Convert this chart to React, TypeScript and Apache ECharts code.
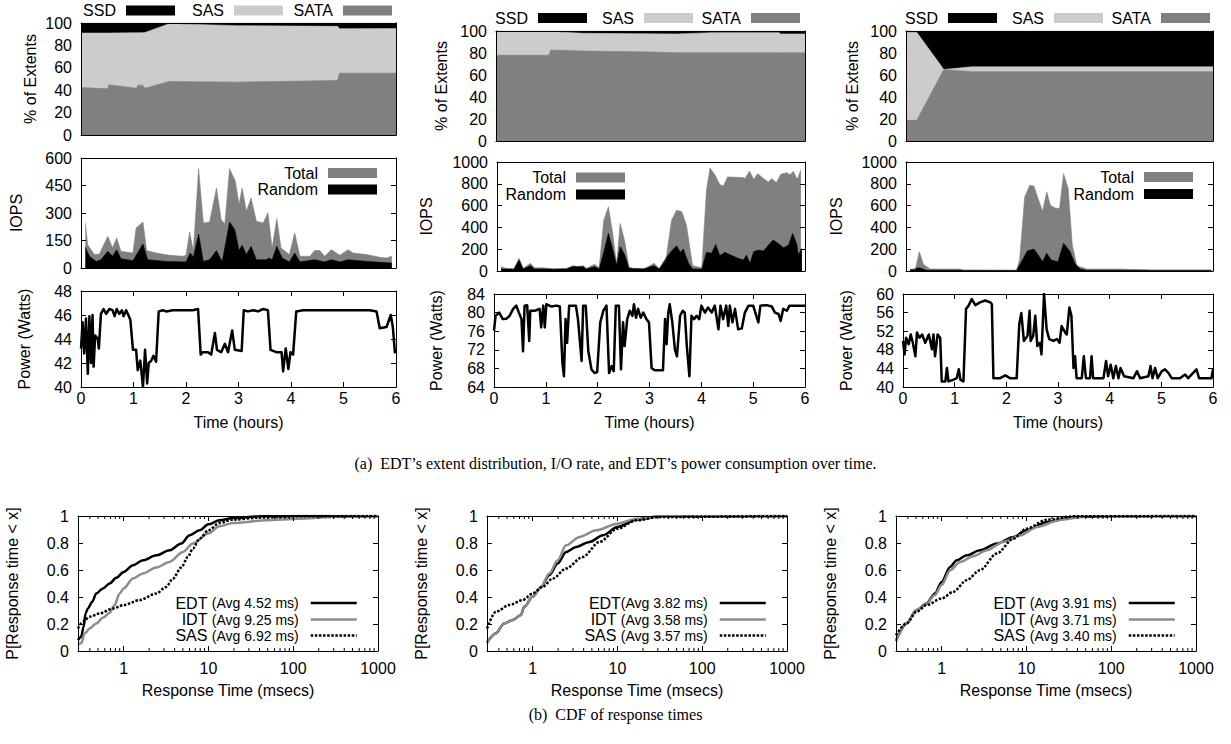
import React, { useEffect, useRef } from 'react';
import * as echarts from 'echarts';

// ---------------- data ----------------
// Extent distribution (% of extents) over time (hours); cumulative tops of each band
const ext1Time = [0, 0.51, 0.53, 1.05, 1.1, 1.13, 1.16, 1.22, 1.68, 3.0, 4.89, 4.92, 6];
const ext1SataTop = [42.4, 41.2, 44.8, 41.8, 45, 44, 45, 41.8, 47.8, 47.2, 48.7, 55.2, 55.2];
const ext1SasTop = [91, 91, 91, 91.3, 91.3, 91.3, 91.3, 91.6, 99.4, 97.6, 97, 94.9, 95];
const ext1SsdTop = [100, 100, 100, 100, 100, 100, 100, 100, 100, 100, 100, 100, 100];

const ext2Time = [0, 1.03, 1.06, 1.7, 3.0, 3.5, 4.2, 5.5, 5.52, 6];
const ext2SataTop = [78, 78, 82.7, 81.8, 81, 80.2, 80.2, 80.2, 80.2, 80.2];
const ext2SasTop = [99.4, 99.4, 99.4, 97.9, 97.4, 97.3, 98.5, 98.5, 97.3, 97.3];
const ext2SsdTop = [100, 100, 100, 100, 100, 100, 100, 100, 100, 100];

const ext3Time = [0, 0.21, 0.74, 1.28, 6];
const ext3SataTop = [18.8, 18.8, 65, 63, 63];
const ext3SasTop = [98.8, 98.8, 65, 67.4, 67.4];
const ext3SsdTop = [100, 100, 100, 100, 100];

// IOPS
const io1TotalTime = [0.083, 0.127, 0.254, 0.35, 0.51, 0.6, 0.68, 0.76, 0.99, 1.05, 1.18, 1.25, 1.43, 1.69, 1.94, 2.0, 2.07, 2.14, 2.24, 2.33, 2.45, 2.58, 2.67, 2.74, 2.83, 2.94, 3.01, 3.07, 3.15, 3.24, 3.34, 3.47, 3.56, 3.64, 3.73, 3.81, 3.97, 4.07, 4.17, 4.36, 4.45, 4.55, 4.64, 4.77, 4.93, 5.09, 5.18, 5.44, 5.69, 5.82, 5.92];
const io1Total = [246, 127, 73, 76, 173, 109, 164, 91, 82, 218, 251, 95, 82, 69, 64, 69, 196, 91, 542, 246, 251, 436, 264, 240, 542, 473, 346, 436, 309, 382, 255, 246, 300, 109, 269, 109, 73, 191, 64, 64, 95, 95, 64, 100, 69, 100, 82, 73, 58, 55, 64];
const io1RandomTime = [0.083, 0.16, 0.29, 0.38, 0.51, 0.6, 0.68, 0.76, 0.99, 1.18, 1.27, 1.62, 2.0, 2.08, 2.14, 2.24, 2.33, 2.45, 2.58, 2.69, 2.83, 2.93, 3.01, 3.07, 3.15, 3.24, 3.34, 3.53, 3.58, 3.64, 3.73, 3.83, 3.97, 4.07, 4.17, 4.45, 4.64, 4.77, 4.93, 5.09, 5.44, 5.92];
const io1Random = [113, 64, 36, 45, 91, 64, 100, 51, 40, 131, 45, 36, 33, 82, 58, 185, 36, 45, 95, 33, 251, 209, 95, 124, 73, 118, 45, 45, 55, 45, 118, 55, 33, 82, 33, 45, 33, 45, 33, 45, 36, 27];

const io2TotalTime = [0.08, 0.18, 0.33, 0.43, 0.51, 0.65, 0.73, 0.9, 1.09, 1.35, 1.48, 1.58, 1.68, 1.74, 1.9, 1.99, 2.08, 2.17, 2.25, 2.33, 2.4, 2.49, 2.57, 2.65, 2.88, 3.06, 3.16, 3.29, 3.4, 3.5, 3.6, 3.69, 3.81, 3.99, 4.08, 4.15, 4.25, 4.34, 4.41, 4.49, 4.8, 4.83, 4.92, 5.0, 5.08, 5.19, 5.29, 5.35, 5.44, 5.53, 5.64, 5.71, 5.77, 5.85, 5.92];
const io2Total = [40, 24, 18, 116, 24, 70, 30, 30, 18, 24, 49, 40, 49, 24, 61, 30, 466, 588, 357, 61, 436, 268, 40, 24, 24, 70, 24, 100, 466, 558, 543, 421, 49, 30, 741, 945, 878, 793, 780, 863, 857, 848, 915, 841, 893, 848, 817, 848, 811, 887, 902, 884, 915, 841, 930];
const io2RandomTime = [0.08, 0.33, 0.43, 0.51, 0.65, 0.73, 1.35, 1.48, 1.68, 1.74, 1.9, 1.99, 2.08, 2.17, 2.25, 2.33, 2.4, 2.49, 2.57, 2.85, 3.06, 3.16, 3.29, 3.4, 3.5, 3.57, 3.63, 3.73, 3.81, 3.99, 4.08, 4.18, 4.26, 4.34, 4.44, 4.55, 4.7, 4.8, 4.86, 4.93, 5.0, 5.09, 5.19, 5.29, 5.38, 5.48, 5.58, 5.68, 5.76, 5.84, 5.87, 5.94];
const io2Random = [18, 18, 100, 18, 49, 18, 18, 40, 40, 18, 40, 18, 171, 345, 207, 55, 223, 146, 24, 18, 49, 18, 116, 183, 232, 171, 201, 70, 18, 18, 171, 162, 244, 140, 171, 146, 116, 100, 146, 70, 177, 192, 183, 238, 284, 253, 213, 238, 345, 244, 146, 207];

const io3TotalTime = [0.08, 0.18, 0.26, 0.34, 0.47, 1.05, 1.12, 2.16, 2.22, 2.32, 2.42, 2.5, 2.58, 2.67, 2.75, 2.82, 2.91, 3.0, 3.08, 3.17, 3.25, 3.34, 3.53, 4.18, 4.83, 5.97];
const io3Total = [18, 9, 177, 61, 18, 18, 9, 6, 100, 680, 787, 780, 665, 549, 726, 604, 579, 573, 893, 756, 238, 49, 18, 18, 9, 9];
const io3RandomTime = [0.08, 0.26, 0.4, 2.16, 2.25, 2.37, 2.5, 2.56, 2.67, 2.75, 2.84, 2.97, 3.08, 3.2, 3.3, 3.4, 3.53, 5.97];
const io3Random = [9, 30, 6, 6, 79, 183, 201, 162, 85, 162, 100, 85, 253, 183, 70, 18, 6, 6];

// Power (Watts)
const pw1Time = [0, 0.03, 0.06, 0.095, 0.13, 0.16, 0.19, 0.22, 0.24, 0.27, 0.32, 0.34, 0.38, 0.43, 0.48, 0.54, 0.6, 0.64, 0.68, 0.73, 0.78, 0.81, 0.86, 0.89, 0.94, 0.99, 1.05, 1.08, 1.13, 1.18, 1.22, 1.26, 1.29, 1.34, 1.38, 1.43, 1.48, 1.56, 1.62, 1.75, 1.88, 2.0, 2.13, 2.23, 2.28, 2.32, 2.42, 2.48, 2.55, 2.59, 2.67, 2.74, 2.8, 2.88, 2.93, 3.06, 3.1, 3.18, 3.28, 3.37, 3.47, 3.56, 3.61, 3.72, 3.82, 3.85, 3.9, 3.95, 3.99, 4.04, 4.1, 4.23, 4.42, 4.61, 4.8, 5.06, 5.31, 5.5, 5.63, 5.69, 5.82, 5.9, 5.94, 5.98];
const pw1 = [43.2, 45.4, 42.8, 45.7, 41.1, 45.9, 42.0, 46.0, 41.7, 44.3, 44.0, 43.2, 46.1, 46.5, 46.1, 46.5, 46.4, 45.9, 46.5, 46.1, 46.4, 45.9, 46.4, 46.1, 45.6, 43.1, 43.1, 41.4, 42.2, 40.0, 43.1, 40.3, 42.0, 42.2, 42.6, 42.1, 46.3, 46.4, 46.3, 46.4, 46.4, 46.4, 46.4, 46.5, 42.7, 42.9, 42.9, 42.7, 44.5, 43.1, 42.9, 43.6, 42.9, 44.7, 43.1, 43.0, 46.4, 46.3, 46.4, 46.3, 46.5, 46.4, 43.1, 42.9, 42.9, 41.3, 43.2, 41.5, 42.9, 42.7, 46.3, 46.4, 46.4, 46.4, 46.4, 46.4, 46.4, 46.4, 46.3, 44.9, 45.0, 46.0, 45.0, 42.8];

const pw2Time = [0, 0.03, 0.1, 0.17, 0.24, 0.3, 0.37, 0.43, 0.48, 0.53, 0.56, 0.59, 0.64, 0.68, 0.7, 0.79, 0.88, 0.91, 0.95, 0.98, 1.01, 1.11, 1.2, 1.27, 1.32, 1.35, 1.38, 1.41, 1.45, 1.58, 1.62, 1.69, 1.72, 1.77, 1.82, 1.88, 1.94, 1.99, 2.05, 2.11, 2.17, 2.22, 2.27, 2.31, 2.35, 2.41, 2.45, 2.49, 2.52, 2.57, 2.62, 2.67, 2.7, 2.74, 2.78, 2.83, 2.88, 2.94, 2.99, 3.04, 3.1, 3.26, 3.3, 3.33, 3.36, 3.39, 3.44, 3.49, 3.53, 3.59, 3.64, 3.68, 3.72, 3.77, 3.81, 3.86, 3.91, 3.96, 4.0, 4.07, 4.13, 4.2, 4.26, 4.33, 4.37, 4.42, 4.48, 4.52, 4.55, 4.6, 4.65, 4.71, 4.78, 4.84, 4.91, 5.0, 5.1, 5.14, 5.26, 5.36, 5.42, 5.49, 5.53, 5.58, 5.65, 5.7, 5.78, 6.0];
const pw2 = [76.1, 79.3, 80.0, 78.6, 78.7, 79.3, 80.8, 81.5, 80.0, 78.6, 71.7, 81.5, 81.6, 73.9, 80.4, 80.4, 80.8, 76.8, 81.5, 76.8, 81.8, 81.3, 81.5, 81.3, 69.2, 66.3, 78.6, 73.5, 81.5, 81.5, 78.6, 69.6, 81.5, 81.5, 71.7, 67.8, 67.0, 67.2, 77.9, 80.4, 81.5, 67.0, 68.5, 67.4, 81.5, 81.5, 67.8, 77.9, 72.8, 78.6, 80.4, 79.3, 81.8, 78.9, 80.8, 78.9, 80.0, 78.6, 77.9, 68.1, 67.6, 67.6, 78.6, 73.2, 79.7, 81.8, 77.9, 72.1, 70.6, 79.3, 80.4, 80.0, 72.8, 66.3, 79.3, 78.6, 79.3, 78.6, 81.5, 80.0, 81.1, 80.0, 81.5, 76.4, 81.5, 78.6, 81.5, 77.1, 81.5, 77.9, 80.8, 76.4, 76.6, 80.0, 81.5, 81.5, 77.9, 81.5, 81.6, 81.3, 80.0, 79.7, 78.2, 80.8, 80.4, 81.5, 81.5, 81.5];

const pw3Time = [0, 0.03, 0.06, 0.11, 0.15, 0.19, 0.24, 0.27, 0.32, 0.37, 0.43, 0.5, 0.56, 0.59, 0.62, 0.67, 0.72, 0.75, 0.82, 0.85, 0.88, 0.98, 1.04, 1.08, 1.11, 1.17, 1.22, 1.27, 1.33, 1.4, 1.49, 1.59, 1.69, 1.72, 1.75, 1.88, 1.98, 2.07, 2.2, 2.25, 2.29, 2.34, 2.41, 2.45, 2.47, 2.52, 2.56, 2.6, 2.65, 2.68, 2.73, 2.78, 2.83, 2.91, 2.98, 3.03, 3.07, 3.14, 3.17, 3.22, 3.26, 3.3, 3.33, 3.36, 3.46, 3.5, 3.54, 3.62, 3.65, 3.68, 3.88, 3.93, 3.97, 4.02, 4.07, 4.12, 4.17, 4.21, 4.28, 4.46, 4.53, 4.59, 4.75, 4.79, 4.83, 4.88, 4.93, 5.01, 5.07, 5.14, 5.2, 5.36, 5.46, 5.52, 5.68, 5.73, 5.97, 6.0];
const pw3 = [49.9, 47.0, 50.6, 49.2, 51.3, 49.5, 46.6, 51.7, 50.6, 51.3, 49.5, 51.3, 48.1, 51.3, 46.6, 51.3, 50.6, 41.2, 41.2, 44.1, 41.2, 41.6, 41.9, 43.8, 41.6, 41.2, 56.8, 57.5, 58.9, 57.6, 58.2, 58.6, 58.2, 57.8, 41.9, 41.9, 42.5, 41.9, 41.9, 53.5, 55.9, 49.9, 51.0, 56.4, 49.9, 51.0, 55.3, 48.8, 49.5, 47.0, 60.0, 52.4, 50.3, 49.9, 50.3, 49.5, 53.1, 51.7, 51.3, 57.1, 55.3, 44.1, 46.6, 41.9, 41.9, 46.6, 41.9, 41.9, 46.6, 41.9, 41.9, 45.6, 42.3, 44.8, 41.9, 44.5, 41.9, 44.1, 42.3, 41.9, 43.4, 41.9, 42.3, 44.5, 41.9, 44.1, 41.9, 43.4, 43.8, 43.0, 41.9, 41.9, 42.7, 41.9, 43.8, 41.9, 41.9, 43.8];

// CDF of response times (msecs, probability)
const cdf1EdtMs = [0.29, 0.316, 0.338, 0.356, 0.38, 0.427, 0.476, 0.57, 0.684, 0.82, 1, 1.29, 1.69, 2.43, 3.48, 4.78, 6.0, 7.87, 10, 13.5, 19.4, 40, 118, 1000];
const cdf1Edt = [0.081, 0.106, 0.18, 0.278, 0.315, 0.365, 0.426, 0.463, 0.5, 0.542, 0.586, 0.635, 0.672, 0.709, 0.746, 0.796, 0.857, 0.894, 0.938, 0.968, 0.985, 0.998, 1.0, 1.0];
const cdf1IdtMs = [0.29, 0.316, 0.347, 0.398, 0.476, 0.57, 0.684, 0.783, 0.897, 1, 1.29, 1.69, 2.43, 3.48, 5.0, 6.56, 10, 13.5, 19.4, 48, 118, 294, 1000];
const cdf1Idt = [0.044, 0.057, 0.13, 0.167, 0.204, 0.246, 0.283, 0.34, 0.426, 0.463, 0.537, 0.574, 0.618, 0.66, 0.734, 0.796, 0.87, 0.924, 0.948, 0.968, 0.98, 0.993, 1.0];
const cdf1SasMs = [0.29, 0.332, 0.398, 0.521, 0.749, 1, 1.54, 2.43, 3.18, 3.82, 4.78, 5.73, 6.56, 7.87, 10, 13.5, 19.4, 40, 118, 1000];
const cdf1Sas = [0.167, 0.217, 0.254, 0.278, 0.315, 0.34, 0.377, 0.426, 0.475, 0.537, 0.618, 0.697, 0.759, 0.833, 0.894, 0.948, 0.973, 0.988, 0.998, 1.0];

const cdf2EdtMs = [0.29, 0.368, 0.462, 0.58, 0.728, 0.797, 1, 1.26, 1.57, 1.98, 2.48, 3.26, 4.69, 6.75, 10, 16.7, 31.8, 1000];
const cdf2Edt = [0.062, 0.13, 0.204, 0.229, 0.266, 0.328, 0.401, 0.475, 0.562, 0.648, 0.734, 0.771, 0.808, 0.857, 0.919, 0.973, 0.998, 1.0];
const cdf2IdtMs = [0.29, 0.368, 0.462, 0.58, 0.728, 0.797, 1, 1.26, 1.57, 1.98, 2.48, 3.57, 5.63, 10, 16.7, 31.8, 1000];
const cdf2Idt = [0.062, 0.13, 0.204, 0.229, 0.266, 0.328, 0.401, 0.475, 0.574, 0.672, 0.783, 0.845, 0.894, 0.943, 0.98, 0.998, 1.0];
const cdf2SasMs = [0.29, 0.368, 0.53, 0.762, 1, 1.31, 1.73, 2.48, 3.91, 6.16, 10, 16.7, 31.8, 1000];
const cdf2Sas = [0.167, 0.29, 0.34, 0.377, 0.426, 0.475, 0.537, 0.611, 0.697, 0.808, 0.906, 0.968, 0.993, 1.0];

const cdf3EdtMs = [0.29, 0.385, 0.506, 0.664, 0.834, 1, 1.26, 1.51, 1.98, 2.84, 4.48, 7.06, 10, 17.5, 36.3, 108, 1000];
const cdf3Edt = [0.074, 0.204, 0.303, 0.352, 0.426, 0.512, 0.623, 0.672, 0.709, 0.746, 0.796, 0.845, 0.894, 0.956, 0.993, 1.0, 1.0];
const cdf3IdtMs = [0.29, 0.385, 0.506, 0.664, 0.834, 1, 1.26, 1.65, 2.37, 3.41, 5.37, 8.47, 13.3, 25.2, 52, 1000];
const cdf3Idt = [0.074, 0.204, 0.303, 0.35, 0.414, 0.488, 0.598, 0.66, 0.702, 0.746, 0.808, 0.857, 0.919, 0.973, 0.998, 1.0];
const cdf3SasMs = [0.29, 0.385, 0.506, 0.664, 1, 1.37, 1.98, 2.84, 4.48, 7.06, 10, 17.5, 36.3, 1000];
const cdf3Sas = [0.118, 0.204, 0.29, 0.34, 0.389, 0.438, 0.525, 0.599, 0.722, 0.833, 0.906, 0.973, 0.998, 1.0];

// Legend averages and minor log ticks
const cdfAvg = [
  ['4.52', '9.25', '6.92'],
  ['3.82', '3.58', '3.57'],
  ['3.91', '3.71', '3.40'],
];
const minorLogTicks = [0.4, 0.5, 0.6, 0.7, 0.8, 0.9, 2, 3, 4, 5, 6, 7, 8, 9, 20, 30, 40, 50, 60, 70, 80, 90, 200, 300, 400, 500, 600, 700, 800, 900];

// y axis ranges [min, max, interval]
const extRange = [0, 100, 20];
const iopsRanges = [[0, 600, 150], [0, 1000, 200], [0, 1000, 200]];
const powerRanges = [[40, 48, 2], [64, 84, 4], [40, 60, 4]];
const cdfRange = [0, 1, 0.2];

const captionA = '(a)  EDT\u2019s extent distribution, I/O rate, and EDT\u2019s power consumption over time.';
const captionB = '(b)  CDF of response times';

// ---------------- layout / style ----------------
const W = 1231;
const FONT = '"Liberation Sans", Arial, Helvetica, sans-serif';
const SERIF = '"Liberation Serif", "Times New Roman", Times, serif';
const FS = 16;
const BLACK = '#000000';
const GRAY = '#808080';
const LIGHT = '#cccccc';
const IDT_GRAY = '#8c8c8c';

type Box = { left: number; top: number; width: number; height: number };
const boxes: Box[] = [
  { left: 81, top: 23, width: 315, height: 112 },
  { left: 496, top: 31, width: 309, height: 110 },
  { left: 906, top: 31, width: 307, height: 110 },
  { left: 81, top: 158, width: 315, height: 110 },
  { left: 497, top: 162, width: 308, height: 109 },
  { left: 906, top: 162, width: 307, height: 109 },
  { left: 81, top: 291, width: 315, height: 96 },
  { left: 494, top: 294, width: 311, height: 93 },
  { left: 903, top: 294, width: 310, height: 93 },
  { left: 78, top: 516, width: 300, height: 135 },
  { left: 487, top: 516, width: 300, height: 135 },
  { left: 896, top: 516, width: 300, height: 135 },
];
const yNameGaps = [43, 47, 46, 57, 63, 62, 49, 50, 49, 58, 58, 58];

const pairs = (xs: number[], ys: number[]) => xs.map((x, i) => [x, ys[i]]);
const txt = (size = FS) => ({ fontFamily: FONT, fontSize: size, color: BLACK });

function buildOption(): any {
  const grid = boxes.map((b) => ({ ...b, containLabel: false, show: false }));
  const xAxis: any[] = [];
  const yAxis: any[] = [];

  boxes.forEach((_, gi) => {
    const isPower = gi >= 6 && gi <= 8;
    const isCdf = gi >= 9;
    const ticks = isPower || isCdf;
    const scale = isCdf
      ? { type: 'log', logBase: 10, min: 0.29, max: 1000 }
      : { type: 'value', min: 0, max: 6, interval: 1 };
    const line = { show: true, onZero: false, lineStyle: { color: BLACK, width: 1 } };
    xAxis.push({
      ...scale,
      gridIndex: gi,
      position: 'bottom',
      z: 5,
      axisLine: line,
      axisTick: { show: ticks, inside: true, length: 5, lineStyle: { color: BLACK } },
      axisLabel: {
        show: ticks,
        margin: isCdf ? 9 : 3,
        ...txt(),
        showMinLabel: !isCdf,
        formatter: (v: number) => String(v),
      },
      splitLine: { show: false },
      name: isPower ? 'Time (hours)' : isCdf ? 'Response Time (msecs)' : '',
      nameLocation: 'middle',
      nameGap: isCdf ? 31 : 27,
      nameTextStyle: txt(),
    });
    xAxis.push({
      ...scale,
      gridIndex: gi,
      position: 'top',
      z: 5,
      axisLine: line,
      axisTick: { show: ticks, inside: true, length: 5, lineStyle: { color: BLACK } },
      axisLabel: { show: false },
      splitLine: { show: false },
    });

    let r: number[];
    let name: string;
    if (gi < 3) { r = extRange; name = '% of Extents'; }
    else if (gi < 6) { r = iopsRanges[gi - 3]; name = 'IOPS'; }
    else if (gi < 9) { r = powerRanges[gi - 6]; name = 'Power (Watts)'; }
    else { r = cdfRange; name = 'P[Response time < x]'; }
    const yTicks = gi >= 3;
    yAxis.push({
      type: 'value',
      gridIndex: gi,
      min: r[0], max: r[1], interval: r[2],
      position: 'left',
      z: 5,
      axisLine: line,
      axisTick: { show: yTicks, inside: true, length: 5, lineStyle: { color: BLACK } },
      axisLabel: { margin: 9, ...txt(), formatter: (v: number) => String(v) },
      splitLine: { show: false },
      name,
      nameLocation: 'middle',
      nameGap: yNameGaps[gi],
      nameTextStyle: txt(),
    });
    yAxis.push({
      type: 'value',
      gridIndex: gi,
      min: r[0], max: r[1], interval: r[2],
      position: 'right',
      z: 5,
      axisLine: line,
      axisTick: { show: yTicks, inside: true, length: 5, lineStyle: { color: BLACK } },
      axisLabel: { show: false },
      splitLine: { show: false },
    });
  });

  const series: any[] = [];
  const extSets = [
    [ext1Time, ext1SataTop, ext1SasTop, ext1SsdTop],
    [ext2Time, ext2SataTop, ext2SasTop, ext2SsdTop],
    [ext3Time, ext3SataTop, ext3SasTop, ext3SsdTop],
  ];
  extSets.forEach(([t, sata, sas, ssd], gi) => {
    // drawn back to front: SSD band (to 100), SAS band, SATA band
    const parts: [string, number[], string][] = [['SSD', ssd, BLACK], ['SAS', sas, LIGHT], ['SATA', sata, GRAY]];
    parts.forEach(([nm, vals, color]) => {
      series.push({
        type: 'line', name: nm, xAxisIndex: 2 * gi, yAxisIndex: 2 * gi,
        data: pairs(t, vals), symbol: 'none', color,
        lineStyle: { width: 0.6, color }, areaStyle: { color, opacity: 1 },
      });
    });
  });

  const ioSets = [
    [io1TotalTime, io1Total, io1RandomTime, io1Random],
    [io2TotalTime, io2Total, io2RandomTime, io2Random],
    [io3TotalTime, io3Total, io3RandomTime, io3Random],
  ];
  ioSets.forEach(([tt, tv, rt, rv], i) => {
    const gi = 3 + i;
    series.push({
      type: 'line', name: 'Total', xAxisIndex: 2 * gi, yAxisIndex: 2 * gi,
      data: pairs(tt, tv), symbol: 'none', color: GRAY,
      lineStyle: { width: 0.6, color: GRAY }, areaStyle: { color: GRAY, opacity: 1 },
    });
    series.push({
      type: 'line', name: 'Random', xAxisIndex: 2 * gi, yAxisIndex: 2 * gi,
      data: pairs(rt, rv), symbol: 'none', color: BLACK,
      lineStyle: { width: 0.6, color: BLACK }, areaStyle: { color: BLACK, opacity: 1 },
    });
  });

  const pwSets = [[pw1Time, pw1], [pw2Time, pw2], [pw3Time, pw3]];
  pwSets.forEach(([t, v], i) => {
    const gi = 6 + i;
    series.push({
      type: 'line', name: 'Power', xAxisIndex: 2 * gi, yAxisIndex: 2 * gi,
      data: pairs(t, v), symbol: 'none', color: BLACK,
      lineStyle: { width: 2.5, color: BLACK, join: 'round' },
    });
  });

  const cdfSets = [
    [cdf1EdtMs, cdf1Edt, cdf1IdtMs, cdf1Idt, cdf1SasMs, cdf1Sas],
    [cdf2EdtMs, cdf2Edt, cdf2IdtMs, cdf2Idt, cdf2SasMs, cdf2Sas],
    [cdf3EdtMs, cdf3Edt, cdf3IdtMs, cdf3Idt, cdf3SasMs, cdf3Sas],
  ];
  cdfSets.forEach(([ex, ey, ix, iy, sx, sy], i) => {
    const gi = 9 + i;
    const common = { type: 'line', xAxisIndex: 2 * gi, yAxisIndex: 2 * gi, symbol: 'none', smooth: 0.3, smoothMonotone: 'x' };
    series.push({ ...common, name: 'EDT', data: pairs(ex, ey), color: BLACK, lineStyle: { width: 2.5, color: BLACK } });
    series.push({ ...common, name: 'IDT', data: pairs(ix, iy), color: IDT_GRAY, lineStyle: { width: 2.5, color: IDT_GRAY } });
    series.push({ ...common, name: 'SAS ', data: pairs(sx, sy), color: BLACK, lineStyle: { width: 2.5, color: BLACK, type: [2.5, 1.6] } });
    series.push({
      type: 'custom', xAxisIndex: 2 * gi, yAxisIndex: 2 * gi, silent: true, z: 6,
      data: minorLogTicks.map((v) => [v, 0]),
      renderItem: (_p: any, api: any) => {
        const v = api.value(0);
        const b = api.coord([v, 0]);
        const t = api.coord([v, 1]);
        return {
          type: 'group',
          children: [
            { type: 'line', shape: { x1: b[0], y1: b[1], x2: b[0], y2: b[1] - 3 }, style: { stroke: BLACK, lineWidth: 1 } },
            { type: 'line', shape: { x1: t[0], y1: t[1], x2: t[0], y2: t[1] + 3 }, style: { stroke: BLACK, lineWidth: 1 } },
          ],
        };
      },
    });
  });

  // legends
  const legend: any[] = [];
  const boxLegend = (name: string, rightEdge: number, cy: number) => ({
    data: [{ name, icon: 'rect' }],
    right: W - rightEdge, top: cy - 8, padding: 0,
    itemWidth: 49, itemHeight: 10, align: 'right', selectedMode: false,
    textStyle: { ...txt(), padding: [0, 5, 0, 0] },
  });
  const extLegendRight = [[175, 283, 392], [587, 693, 800], [997, 1103, 1210]];
  const extLegendY = [10.5, 18, 18];
  extLegendRight.forEach((xs, i) => {
    legend.push(boxLegend('SSD', xs[0], extLegendY[i]));
    legend.push(boxLegend('SAS', xs[1], extLegendY[i]));
    legend.push(boxLegend('SATA', xs[2], extLegendY[i]));
  });
  const ioLegendRight = [377, 625, 1193];
  const ioLegendY = [[173, 189.5], [177.5, 194.5], [177, 194]];
  ioLegendRight.forEach((x, i) => {
    legend.push(boxLegend('Total', x, ioLegendY[i][0]));
    legend.push(boxLegend('Random', x, ioLegendY[i][1]));
  });
  const cdfLegendRight = [358, 767, 1176];
  const cdfLegendY = [603, 619.5, 635.5];
  const names = ['EDT', 'IDT', 'SAS '];
  const shown = ['EDT', 'IDT', 'SAS'];
  cdfLegendRight.forEach((x, i) => {
    names.forEach((nm, k) => {
      const sep = i === 1 && k === 0 ? '' : ' ';
      legend.push({
        data: [nm],
        right: W - x, top: cdfLegendY[k] - 8, padding: 0,
        itemWidth: 46, itemHeight: 3, align: 'right', selectedMode: false,
        itemStyle: { opacity: 0 },
        lineStyle: { width: 2.5 },
        formatter: `{a|${shown[k]}}${sep}{b|(Avg ${cdfAvg[i][k]} ms)}`,
        textStyle: {
          ...txt(), padding: [0, 7, 0, 0],
          rich: { a: { ...txt(16) }, b: { ...txt(14) } },
        },
      });
    });
  });

  const title = [
    { text: captionA, left: 'center', top: 455, padding: 0, textStyle: { fontFamily: SERIF, fontSize: 16, fontWeight: 'normal', color: BLACK } },
    { text: captionB, left: 'center', top: 706, padding: 0, textStyle: { fontFamily: SERIF, fontSize: 16, fontWeight: 'normal', color: BLACK } },
  ];

  return { animation: false, backgroundColor: '#ffffff', title, legend, grid, xAxis, yAxis, series };
}

export default function App() {
  const ref = useRef<HTMLDivElement>(null);
  useEffect(() => {
    if (!ref.current) return;
    const chart = echarts.init(ref.current, undefined, { renderer: 'svg' });
    chart.setOption(buildOption());
    return () => chart.dispose();
  }, []);
  return (
    <div
      ref={ref}
      style={{ position: 'absolute', left: 0, top: 0, width: 1231, height: 744, background: '#fff' }}
    />
  );
}
